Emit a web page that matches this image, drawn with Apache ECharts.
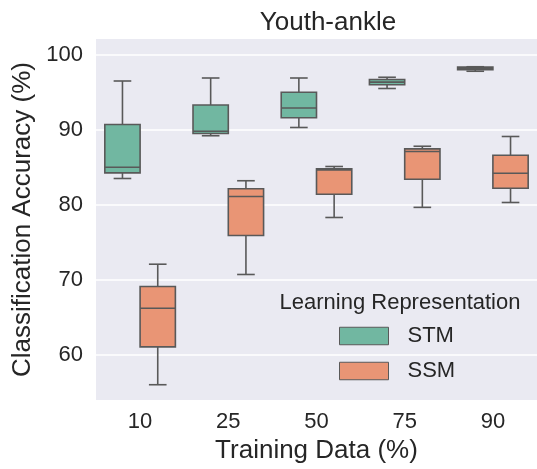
<!DOCTYPE html>
<html>
<head>
<meta charset="utf-8">
<script src="https://cdn.jsdelivr.net/npm/echarts@6/dist/echarts.min.js"></script>
<style>
  html, body { margin: 0; padding: 0; background: #ffffff; }
  #chart { width: 537px; height: 469px; }
</style>
</head>
<body>
<div id="chart"></div>
<script>
// Training-data share (x categories)
const categories = ['10', '25', '50', '75', '90'];
// Box statistics per category: [lower whisker, Q1, median, Q3, upper whisker]
const stmBoxes = [
  [83.5, 84.25, 85.0, 90.7, 96.5],
  [89.2, 89.5, 89.8, 93.3, 96.9],
  [90.3, 91.6, 92.9, 95.0, 96.9],
  [95.5, 96.0, 96.35, 96.7, 97.0],
  [97.8, 98.0, 98.15, 98.35, 98.4]
];
const ssmBoxes = [
  [56.0, 61.05, 66.2, 69.1, 72.07],
  [70.7, 75.9, 81.1, 82.14, 83.2],
  [78.3, 81.4, 84.65, 84.8, 85.1],
  [79.65, 83.4, 87.1, 87.45, 87.8],
  [80.3, 82.2, 84.2, 86.6, 89.1]
];
const yTicks = [60, 70, 80, 90, 100];
const seriesNames = ['STM', 'SSM'];

const FONT = '"Liberation Sans", Arial, Helvetica, sans-serif';
const TEXT = '#262626';
const EDGE = '#595959';
const COLORS = ['#71b7a1', '#e99575'];

// Seaborn-style box: each hue level takes 0.4 of the band, shifted by ±0.2
function boxRenderer(side, fill) {
  return function (params, api) {
    const cat = api.value(0);
    const band = api.size([1, 0])[0];
    const cx = api.coord([cat, 0])[0] + side * band * 0.2;
    const w = band * 0.4;
    const cap = w / 2;
    const y = (i) => api.coord([cat, api.value(i)])[1];
    const lo = y(1), q1 = y(2), med = y(3), q3 = y(4), hi = y(5);
    const line = { stroke: EDGE, lineWidth: 1.6 };
    return {
      type: 'group',
      children: [
        { type: 'line', shape: { x1: cx, y1: q3, x2: cx, y2: hi }, style: line },
        { type: 'line', shape: { x1: cx, y1: q1, x2: cx, y2: lo }, style: line },
        { type: 'rect', shape: { x: cx - w / 2, y: q3, width: w, height: q1 - q3 },
          style: { fill: fill, stroke: EDGE, lineWidth: 1.6 } },
        { type: 'line', shape: { x1: cx - w / 2, y1: med, x2: cx + w / 2, y2: med }, style: line },
        { type: 'line', shape: { x1: cx - cap / 2, y1: hi, x2: cx + cap / 2, y2: hi }, style: line },
        { type: 'line', shape: { x1: cx - cap / 2, y1: lo, x2: cx + cap / 2, y2: lo }, style: line }
      ]
    };
  };
}

function toData(boxes) {
  return boxes.map((b, i) => [i].concat(b));
}

const chart = echarts.init(document.getElementById('chart'), null, { renderer: 'canvas' });
chart.setOption({
  animation: false,
  backgroundColor: '#ffffff',
  textStyle: { fontFamily: FONT, color: TEXT },
  grid: {
    left: 96, top: 39, right: -9, bottom: 64,
    show: true, backgroundColor: '#eaeaf2', borderWidth: 0
  },
  graphic: [
    { type: 'text', x: 328, y: 22.5,
      style: { text: 'Youth-ankle', fill: TEXT, font: '26px ' + FONT,
               textAlign: 'center', textVerticalAlign: 'middle' } },
    { type: 'text', x: 400, y: 303, z: 10,
      style: { text: 'Learning Representation', fill: TEXT, font: '22px ' + FONT,
               textAlign: 'center', textVerticalAlign: 'middle' } }
  ],
  legend: {
    orient: 'vertical',
    left: 339, top: 325,
    itemWidth: 49, itemHeight: 17.5, itemGap: 13,
    icon: 'rect',
    padding: 0,
    textStyle: { fontSize: 22, color: TEXT, fontFamily: FONT, lineHeight: 22, padding: [0, 0, 0, 14] },
    data: [
      { name: seriesNames[0], itemStyle: { color: COLORS[0], borderColor: EDGE, borderWidth: 1 } },
      { name: seriesNames[1], itemStyle: { color: COLORS[1], borderColor: EDGE, borderWidth: 1 } }
    ]
  },
  xAxis: {
    type: 'category',
    data: categories,
    boundaryGap: true,
    axisLine: { show: false },
    axisTick: { show: false },
    axisLabel: { fontSize: 22, color: TEXT, margin: 11, fontFamily: FONT },
    splitLine: { show: false },
    name: 'Training Data (%)',
    nameLocation: 'middle',
    nameGap: 35,
    nameTextStyle: { fontSize: 26, color: TEXT, fontFamily: FONT }
  },
  yAxis: {
    type: 'value',
    min: 53.95,
    max: 102.1,
    axisLine: { show: false },
    axisTick: { show: false, customValues: yTicks },
    axisLabel: { fontSize: 22, color: TEXT, margin: 13, fontFamily: FONT, customValues: yTicks },
    splitLine: { show: true, lineStyle: { color: '#ffffff', width: 1.5 } },
    name: 'Classification Accuracy (%)',
    nameLocation: 'middle',
    nameGap: 56,
    nameTextStyle: { fontSize: 26, color: TEXT, fontFamily: FONT }
  },
  series: [
    {
      name: seriesNames[0], type: 'custom',
      renderItem: boxRenderer(-1, COLORS[0]),
      itemStyle: { color: COLORS[0], borderColor: EDGE },
      encode: { x: 0, y: [1, 2, 3, 4, 5] },
      data: toData(stmBoxes)
    },
    {
      name: seriesNames[1], type: 'custom',
      renderItem: boxRenderer(1, COLORS[1]),
      itemStyle: { color: COLORS[1], borderColor: EDGE },
      encode: { x: 0, y: [1, 2, 3, 4, 5] },
      data: toData(ssmBoxes)
    }
  ]
});
</script>
</body>
</html>
